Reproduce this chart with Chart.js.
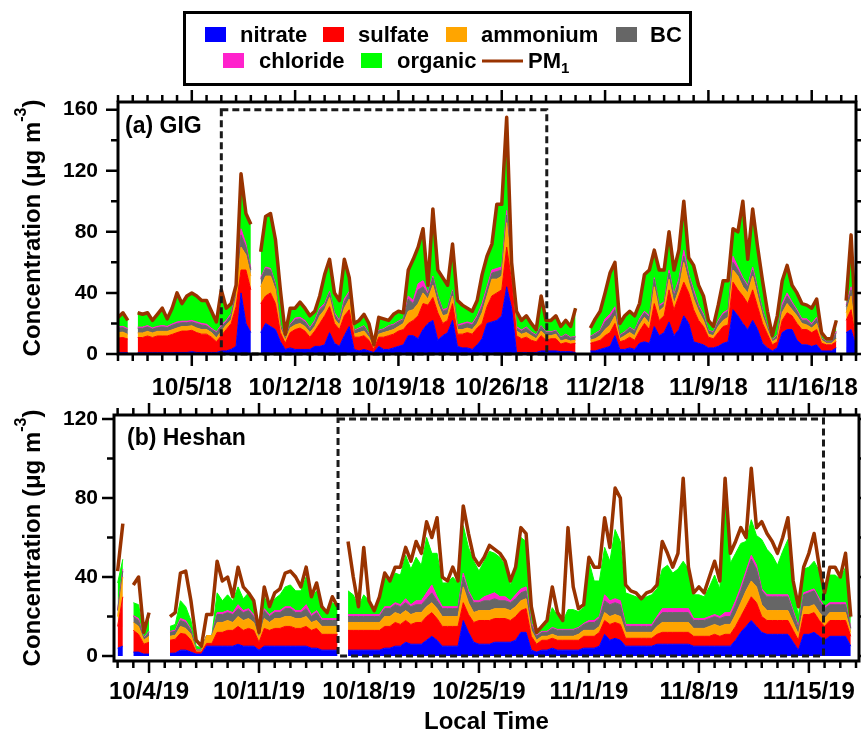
<!DOCTYPE html>
<html>
<head>
<meta charset="utf-8">
<script src="https://cdn.jsdelivr.net/npm/chart.js@4.4.1/dist/chart.umd.min.js"></script>
<style>
  html, body { margin: 0; padding: 0; background: #fff; }
  #wrap { position: relative; width: 861px; height: 733px; overflow: hidden; }
  #wrap canvas { position: absolute; left: 0; }
</style>
</head>
<body>
<div id="wrap">
  <canvas id="chartA" width="861" height="400" style="top:0;width:861px;height:400px"></canvas>
  <canvas id="chartB" width="861" height="333" style="top:400px;width:861px;height:333px"></canvas>
</div>
<script>
// 1. Data (one value every 8 h)

// (a) GIG - days since 30 Sep 2018
const pm1A = [24,27,22,null,27,26,27,22,26,30, 23,30,40,33,38,40,38,35,35,28, 21,42,30,33,45,118,92,85,null,67,
  90,92,75,42,13,30,30,34,30,25, 28,38,52,62,40,35,62,50,20,22, 26,20,6,24,23,22,26,28,27,55,
  62,70,82,45,95,55,50,45,72,35, 32,30,28,35,52,64,72,98,98,155, 60,28,22,25,20,16,38,22,22,25,
  18,22,18,30,null,null,17,23,28,40, 53,60,20,25,28,25,33,52,55,68, 55,55,80,55,68,100,63,58,45,38,
  22,18,32,48,48,82,80,100,62,95, 70,48,28,12,25,48,58,45,40,33, 32,30,36,14,10,10,22,null,35,78, 15];
const nitrateA = [.8,.8,.8,null,.8,.8,.8,.8,.8,.8, .8,.8,1,1,1,1.5,1,1,1,1, 1,2,2,3,5,40,20,14,null,14,
  20,18,16,8,3,4,3,3,3,3, 5,5,6,14,7,5,12,18,3,2, 3,2,1,5,3,3,4,5,6,12,
  12,10,16,20,22,9,12,14,22,5, 4,4,3,6,10,20,21,22,25,44, 30,1,1,1,1,1,2,2,2,2,
  1.5,1.5,1.5,1,null,null,2,2,3,4, 5,12,3,3,4,3,7,8,7,18, 12,14,21,12,16,25,20,8,7,6,
  4,4,5,7,8,29,25,20,16,22, 16,7,4,2,4,14,16,16,9,6, 6,5,6,2,2,2,4,null,14,16, 5];
const sulfateA = [9.7,10,9,null,10,10,11,10,11,11, 11,12,13,14,14,14,13,12,12,10, 7,10,14,17,26,15,35,28,null,19,
  18,22,17,6,4,10,13,14,12,8, 10,15,19,17,13,11,13,11,8,9, 9,7,2,6,8,9,9,10,10,8,
  10,15,17,12,15,18,8,8,11,8, 9,10,10,11,10,11,17,18,17,26, 18,11,9,10,8,7,10,7,8,8,
  5,6,5,6,null,null,5,6,6,8, 9,8,5,6,7,6,8,12,9,15, 10,11,21,17,22,22,20,21,15,12,
  7,6,9,11,11,18,17,18,17,20, 15,13,9,4,4,8,11,9,11,10, 10,9,10,5,4,4,4,null,8,13, 4];
const ammoniumA = [3.5,3.5,3,null,3,3,3,3,3,3, 3,3,3,3,3,3,3,3,3,3, 2.5,3,3,2.5,6,15,10,9,null,11,
  13,11,9,3,2,3,3,3,3,3, 3,5,4,6,3,3,5,7,2,3, 3,2,1,2,3,3,3,3,4,8,
  7,8,7,4,8,6,5,4,5,3, 3,3,3,3,7,7,11,9,9,16, 6,3,3,3,3,2,3,3,2,3,
  2,2,2,2,null,null,2,2,3,4, 5,5,2,3,3,3,4,4,4,11, 6,6,7,4,4,13,7,7,6,4,
  2,2,4,4,5,8,9,6,7,9, 7,5,3,2,2,5,6,4,5,4, 3,3,4,2,1,1,2,null,5,9, 2];
const bcA = [3,3,3,null,3,3,3,2.5,2.5,3, 2.5,3,3,2.5,2.5,2.5,3,3,2.5,2, 3.5,3,2,3,3,8,5,4,null,5,
  5,4,3,2,1,2,3.5,3,3,2.5, 3,4,3,3,3,2,4,4,2,2.5, 3,2,1,2,2,3,3,3,2.5,8,
  4,9,4,3,5,4,3,3,3,2, 3,3,3,4,4,4,4,5,4,5, 2,2,2,3,2,2,3,2,2,2,
  2,3,2,2,null,null,2,3,3,5, 5,4,2,2,3,3,3,3,4,5, 3,2,4,5,5,4,4,4,3,3,
  2,2,3,4,4,5,4,5,4,4, 4,3,2,1,2,4,5,4,3,2, 3,2,3,1,1,1,4,null,4,4, 2];
const chlorideA = [.8,.8,.8,null,.8,.8,.8,.8,.8,.8, .8,.8,1,1,1,1,1,1,1,.8, .5,1,1,1,1,4,2,1,null,1,
  1,1,1,.5,.3,.5,1,1,1,.7, 1,1,1,1,1,1,2,1,.5,.5, .5,.5,.2,.5,.5,.5,.5,.5,.5,2,
  2,4,4,1,1,1,1,1,1,1, 1,1,1,1,2,2,2,2,2,3, 1,1,.7,.7,.5,.5,.5,.5,.5,.5,
  .5,.5,.5,.5,null,null,.5,.5,.5,2, 2,2,.5,.5,.5,.5,1,1,1,1, 1,1,2,1,2,4,1,2,1,1,
  .5,.5,1,1,1,4,2,1,1,2, 1,1,.5,.3,.5,2,2,1,1,1, 1,1,1,.3,.3,.3,1,null,1,2, .5];
const organicA = [6.2,8.9,5.4,null,9.4,8.4,8.4,4.9,7.9,11.4, 4.9,10.4,19,11.5,16.5,18,17,15,15.5,11.2, 6.5,23,8,6.5,4,36,20,29,null,17,
  33,36,29,22.5,2.7,10.5,6.5,10,8,7.8, 6,8,19,21,13,13,26,9,4.5,5, 7.5,6.5,.8,8.5,6.5,3.5,6.5,6.5,4,17,
  27,24,34,5,44,17,21,15,30,16, 12,9,8,10,19,20,17,42,41,61, 3,10,6.3,7.3,5.5,3.5,19.5,7.5,7.5,9.5,
  7,9,7,18.5,null,null,5.5,9.5,12.5,17, 27,29,7.5,10.5,10.5,9.5,10,24,30,18, 23,21,25,16,19,32,11,16,13,12,
  6.5,3.5,10,21,19,18,23,50,17,38, 27,19,9.5,2.7,12.5,15,18,11,11,10, 9,10,12,3.7,1.7,1.7,7,null,3,34, 1.5];

// (b) Heshan - days since 1 Oct 2019, first sample on 2 Oct
const pm1B = [43,67,null,36,40,12,22,null,null,null, 20,22,42,43,28,8,5,21,21,48, 38,40,30,45,35,32,28,12,35,25,
  32,34,42,43,40,35,45,30,37,25, 22,30,25,null,58,40,25,55,28,23, 30,42,38,45,45,55,48,58,52,68,
  60,70,40,38,45,38,76,62,50,46, 50,56,54,52,48,38,45,65,62,25, 12,15,18,35,22,18,65,35,24,26,
  50,45,45,70,55,85,80,36,33,32, 29,32,33,36,58,52,45,52,90,45, 32,35,32,40,48,38,90,52,58,65,
  60,95,65,68,62,58,52,60,70,38, 25,45,52,62,45,32,45,45,40,52, 20];
const nitrateB = [4,5,null,2,2,1,1,null,null,null, 1.4,1.5,3,3,2,1,1,5,5,5, 5,5,5,6,5,5,5,3,5,5,
  5,5,5,5,5,5,5,4,4,3, 3,3,3,null,3,3,3,3,3,3, 3,4,4,5,5,7,6,6,6,8,
  10,8,5,5,5,5,18,12,7,6, 6,6,7,7,7,7,8,12,12,3, 2,3,3,4,3,3,3,3,3,4,
  4,4,5,11,8,9,8,5,5,5, 5,5,5,6,6,6,6,6,6,6, 5,5,5,5,5,5,5,5,8,12,
  15,18,15,12,11,11,11,11,11,7, 3,11,11,12,10,8,10,10,10,10, 5];
const sulfateB = [11,25,null,11,9,5,6,null,null,null, 6.6,7,8.5,8,6,1,1,1.4,1.4,7, 7,8,8,9,8,9,8,4,9,8,
  9,9,10,10,9,9,10,9,10,8, 8,8,8,null,10,10,10,10,10,10, 10,11,11,12,11,11,10,11,11,12,
  12,11,10,10,10,10,9,9,10,12, 12,12,12,12,12,11,12,11,12,7, 4,5,5,5,5,5,5,5,5,6,
  6,6,7,7,8,8,8,4,4,4, 4,4,4,5,6,6,6,6,6,6, 5,5,5,5,6,5,6,6,7,8,
  10,12,12,8,7,7,7,7,7,6, 5,10,10,10,8,7,8,8,8,8, 5];
const ammoniumB = [5,10,null,4,4,2,3,null,null,null, 2,2,3.5,3,3,.5,.5,4,4,5, 5,5,4,5,5,5,4,2,5,4,
  5,5,5,5,5,5,5,4,4,4, 4,4,4,null,4,4,4,4,4,4, 4,5,5,5,5,5,5,5,5,5,
  5,5,5,5,5,5,8,6,5,5, 5,5,5,5,5,5,5,5,5,3, 2,2,2,2,2,2,2,2,3,3,
  3,3,3,4,4,4,4,3,3,3, 3,3,3,4,5,5,5,5,5,5, 4,4,4,5,5,5,5,5,6,7,
  8,8,8,6,5,5,5,5,5,4, 3,4,4,4,4,4,4,4,4,4, 2];
const bcB = [3,3,null,3,3,1,2,null,null,null, 2,2,3,3,2,.5,.5,0,0,4, 4,4,4,4,4,4,3,2,4,3,
  3,3,4,4,3,3,4,3,4,3, 3,3,3,null,3,3,3,3,3,3, 3,4,4,4,4,4,4,4,4,4,
  5,4,4,4,4,4,5,5,5,4, 5,5,5,4,4,4,4,4,4,3, 2,2,2,3,3,3,3,3,3,3,
  4,4,4,6,6,6,6,3,3,3, 3,3,3,4,5,5,5,5,5,5, 4,4,4,4,4,4,4,4,5,6,
  8,11,9,7,7,7,7,7,7,5, 3,6,7,7,6,5,4,4,4,4, 2];
const chlorideB = [.5,1,null,.5,1,.3,.5,null,null,null, .5,.5,1,1,.5,.2,.2,0,0,1, 1,1,1,2,1,1,1,.5,1,1,
  1,1,1,1,1,1,2,1,1,1, 1,1,1,null,1,1,1,1,1,1, 1,1,1,1,1,2,1,2,2,3,
  4,2,1,1,1,1,2,1,1,1, 2,3,3,2,2,1,2,2,2,1, .5,.5,.5,.5,.5,.5,.5,.5,.5,.5,
  1,1,1,3,2,2,2,1,1,1, 1,1,1,1,2,2,2,2,2,2, 1,1,1,1,1,1,2,2,2,2,
  2,2,2,1,1,1,1,1,1,1, 1,1,1,1,1,1,1,1,1,1, .5];
const organicB = [13.5,5,null,6.5,7,1.7,7.5,null,null,null, 2.5,3,9,7,4.5,1.8,1,0,0,10, 6,8,6,9,6,8,5,.5,6,3,
  6,8,10,11,10,10,14,8,10,5, 3,8,6,null,12,10,4,10,7,2, 9,15,12,15,15,22,18,22,18,28,
  16,22,12,12,15,12,24,22,20,15, 18,22,20,20,16,8,12,26,23,6, 1.5,2,4,10,7,4,10,10,8,8,
  30,20,18,24,20,35,30,16,15,14, 13,14,15,14,20,22,18,20,24,20, 12,12,11,15,20,14,68,25,24,22,
  15,18,15,25,23,20,15,22,28,12, 5,12,12,14,14,5,14,14,12,18, 5];

// sample times (days), 8-hourly
const timeA = pm1A.map((_, i) => i / 3);
const timeB = pm1B.map((_, i) => 1 + i / 3);

// tick labels
const tickDaysA = [5, 12, 19, 26, 33, 40, 47];
const tickLabelsA = ['10/5/18', '10/12/18', '10/19/18', '10/26/18', '11/2/18', '11/9/18', '11/16/18'];
const tickDaysB = [3, 10, 17, 24, 31, 38, 45];
const tickLabelsB = ['10/4/19', '10/11/19', '10/18/19', '10/25/19', '11/1/19', '11/8/19', '11/15/19'];

const speciesNames = ['nitrate', 'sulfate', 'ammonium', 'BC', 'chloride', 'organic'];
const speciesColors = ['#0000ff', '#ff0000', '#ffa500', '#666666', '#ff22cc', '#00ff00'];
const pmColor = '#993300';
const FONT = '"Liberation Sans", Arial, sans-serif';


// 2. Helpers

function makeDatasets(series, pm1) {
  const ds = series.map((vals, k) => ({
    label: speciesNames[k],
    data: vals,
    backgroundColor: speciesColors[k],
    borderColor: speciesColors[k],
    borderWidth: 1,
    fill: k === 0 ? 'origin' : '-1',
    pointRadius: 0,
    tension: 0,
    stack: 'species'
  }));
  ds.push({
    label: 'PM1',
    data: pm1,
    borderColor: pmColor,
    borderWidth: 3.5,
    borderJoinStyle: 'round',
    fill: false,
    pointRadius: 0,
    tension: 0,
    stack: 'pm1',
    order: -1
  });
  return ds;
}

function drawYTitle(ctx, cx, cy) {
  const main = 'Concentration (\u03bcg m', sup = '-3', close = ')';
  ctx.save();
  ctx.translate(cx, cy);
  ctx.rotate(-Math.PI / 2);
  ctx.fillStyle = '#000';
  ctx.textAlign = 'left';
  ctx.textBaseline = 'alphabetic';
  ctx.font = 'bold 24px ' + FONT;
  const w1 = ctx.measureText(main).width, w3 = ctx.measureText(close).width;
  ctx.font = 'bold 16px ' + FONT;
  const w2 = ctx.measureText(sup).width;
  let x = -(w1 + w2 + w3) / 2;
  ctx.font = 'bold 24px ' + FONT;
  ctx.fillText(main, x, 0);
  x += w1;
  ctx.font = 'bold 16px ' + FONT;
  ctx.fillText(sup, x, -14);
  x += w2;
  ctx.font = 'bold 24px ' + FONT;
  ctx.fillText(close, x, 0);
  ctx.restore();
}

function drawLegend(ctx) {
  ctx.save();
  ctx.strokeStyle = '#000';
  ctx.lineWidth = 3;
  ctx.strokeRect(184.5, 12.5, 506, 72);
  ctx.font = 'bold 22px ' + FONT;
  ctx.fillStyle = '#000';
  ctx.textBaseline = 'alphabetic';
  // [swatch x, swatch y, text x, baseline]
  const spots = [[205, 27, 240, 42], [323, 27, 358, 42], [446, 27, 481, 42], [616, 27, 650, 42],
                 [223, 53, 259, 68], [361, 53, 397, 68]];
  spots.forEach((s, k) => {
    ctx.fillStyle = speciesColors[k];
    ctx.fillRect(s[0], s[1], 21, 15);
    ctx.fillStyle = '#000';
    ctx.fillText(speciesNames[k], s[2], s[3]);
  });
  ctx.strokeStyle = pmColor;
  ctx.beginPath();
  ctx.moveTo(482, 61);
  ctx.lineTo(523, 61);
  ctx.stroke();
  ctx.fillStyle = '#000';
  ctx.fillText('PM', 528, 68);
  const w = ctx.measureText('PM').width;
  ctx.font = 'bold 15px ' + FONT;
  ctx.fillText('1', 528 + w, 73);
  ctx.restore();
}

const framePlugin = {
  id: 'frame',
  afterDraw(chart, args, opts) {
    const ctx = chart.ctx;
    const {left, right, top, bottom} = chart.chartArea;
    const xs = chart.scales.x, ys = chart.scales.y;
    ctx.save();

    // dashed box
    const bx0 = xs.getPixelForValue(opts.box[0]), bx1 = xs.getPixelForValue(opts.box[1]);
    const by0 = ys.getPixelForValue(0), by1 = ys.getPixelForValue(opts.box[2]);
    ctx.strokeStyle = '#1a1a1a';
    ctx.lineWidth = 3;
    ctx.setLineDash([7, 4]);
    ctx.strokeRect(bx0, by1, bx1 - bx0, by0 - by1);
    ctx.setLineDash([]);

    // frame + outward ticks
    ctx.strokeStyle = '#000';
    ctx.lineWidth = 3;
    ctx.strokeRect(left, top, right - left, bottom - top);
    ctx.lineWidth = 2.5;
    ctx.beginPath();
    for (let d = Math.ceil(xs.min); d <= xs.max; d++) {
      const px = xs.getPixelForValue(d);
      const len = opts.majorDays.includes(d) ? 12 : 7;
      ctx.moveTo(px, bottom); ctx.lineTo(px, bottom + len);
      ctx.moveTo(px, top); ctx.lineTo(px, top - len);
    }
    for (let v = 0; v <= ys.max; v += 20) {
      const py = ys.getPixelForValue(v);
      const len = v % 40 === 0 ? 12 : 7;
      ctx.moveTo(left, py); ctx.lineTo(left - len, py);
      ctx.moveTo(right, py); ctx.lineTo(right + len, py);
    }
    ctx.stroke();

    // panel label
    ctx.fillStyle = '#000';
    ctx.font = 'bold 23px ' + FONT;
    ctx.textAlign = 'left';
    ctx.textBaseline = 'alphabetic';
    ctx.fillText(opts.label, opts.labelPos[0], opts.labelPos[1]);

    drawYTitle(ctx, 40, (top + bottom) / 2);

    if (opts.xTitle) {
      ctx.font = 'bold 24px ' + FONT;
      ctx.textAlign = 'center';
      ctx.fillText(opts.xTitle, (left + right) / 2, opts.xTitleY);
    }
    if (opts.legend) drawLegend(ctx);
    ctx.restore();
  }
};

function makeChart(id, cfg) {
  return new Chart(document.getElementById(id), {
    type: 'line',
    data: { labels: cfg.time, datasets: makeDatasets(cfg.series, cfg.pm1) },
    options: {
      responsive: false,
      animation: false,
      layout: { padding: { top: cfg.padTop, right: cfg.padRight, left: 0, bottom: 0 } },
      plugins: { legend: { display: false }, tooltip: { enabled: false }, frame: cfg.frame },
      scales: {
        x: {
          type: 'linear',
          min: cfg.xMin,
          max: cfg.xMax,
          grid: { display: false, drawTicks: false },
          border: { display: false },
          ticks: {
            autoSkip: false,
            maxRotation: 0,
            padding: cfg.xPad,
            color: '#000',
            font: { family: FONT, size: 24, weight: 'bold' },
            callback: v => cfg.tickLabels[cfg.tickDays.indexOf(v)]
          },
          afterBuildTicks: s => { s.ticks = cfg.tickDays.map(v => ({ value: v })); },
          afterFit: s => { s.height = cfg.xHeight; s.paddingLeft = 0; s.paddingRight = 0; }
        },
        y: {
          stacked: true,
          min: cfg.yMin,
          max: cfg.yMax,
          grid: { display: false, drawTicks: false },
          border: { display: false },
          ticks: {
            padding: cfg.yPad,
            color: '#000',
            font: { family: FONT, size: 21, weight: 'bold' }
          },
          afterBuildTicks: s => { s.ticks = cfg.yTicks.map(v => ({ value: v })); },
          afterFit: s => { s.width = cfg.yWidth; s.paddingTop = 0; s.paddingBottom = 0; }
        }
      }
    },
    plugins: [framePlugin]
  });
}


// 3. Charts

Chart.defaults.font.family = FONT;

makeChart('chartA', {
  time: timeA,
  series: [nitrateA, sulfateA, ammoniumA, bcA, chlorideA, organicA],
  pm1: pm1A,
  padTop: 102, padRight: 5, yWidth: 118, xHeight: 46,
  xMin: 0, xMax: 50, yMin: 0, yMax: 165,
  yTicks: [0, 40, 80, 120, 160],
  tickDays: tickDaysA, tickLabels: tickLabelsA,
  xPad: 20, yPad: 20,
  frame: { box: [7, 29.05, 160], majorDays: tickDaysA, label: '(a) GIG', labelPos: [125, 133], legend: true }
});

makeChart('chartB', {
  time: timeB,
  series: [nitrateB, sulfateB, ammoniumB, bcB, chlorideB, organicB],
  pm1: pm1B,
  padTop: 15, padRight: 2, yWidth: 114, xHeight: 72,
  xMin: 0.77, xMax: 48.19, yMin: -2.5, yMax: 122,
  yTicks: [0, 40, 80, 120],
  tickDays: tickDaysB, tickLabels: tickLabelsB,
  xPad: 17, yPad: 16,
  frame: { box: [15.03, 45.93, 120], majorDays: tickDaysB, label: '(b) Heshan', labelPos: [127, 45],
           xTitle: 'Local Time', xTitleY: 329 }
});
</script>
</body>
</html>
